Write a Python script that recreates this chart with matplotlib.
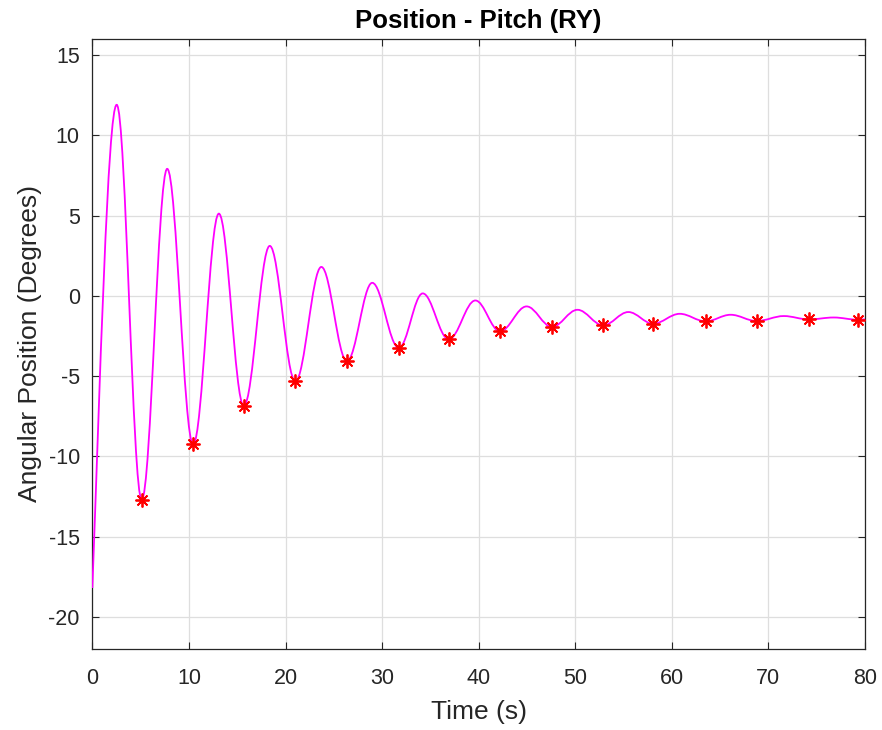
import numpy as np
import matplotlib
matplotlib.use("Agg")
import matplotlib.pyplot as plt
from matplotlib.path import Path
from matplotlib.patches import PathPatch

# ---- data ----
start_time = 0.0
start_value = -18.2
start_slope = 16.0  # deg/s at t=0

peak_times = [2.52, 7.75, 13.10, 18.37, 23.71, 28.98, 34.21, 39.66, 44.96,
              50.23, 55.50, 60.82, 66.09, 71.60, 76.77]
peak_values = [11.9, 7.91, 5.12, 3.11, 1.80, 0.81, 0.15, -0.29, -0.66,
               -0.87, -1.01, -1.12, -1.18, -1.26, -1.35]

trough_times = [5.11, 10.44, 15.68, 21.02, 26.36, 31.73, 36.90, 42.21, 47.59,
                52.89, 58.06, 63.50, 68.78, 74.18, 79.28]
trough_values = [-12.7, -9.26, -6.86, -5.33, -4.07, -3.24, -2.71, -2.21, -1.94,
                 -1.84, -1.74, -1.59, -1.57, -1.47, -1.49]

end_time = 80.0
end_value = -1.47

x_ticks = [0, 10, 20, 30, 40, 50, 60, 70, 80]
y_ticks = [-20, -15, -10, -5, 0, 5, 10, 15]

plt.rcParams['font.family'] = ['Liberation Sans', 'DejaVu Sans']
plt.rcParams['axes.unicode_minus'] = False

fig = plt.figure(figsize=(8.82, 7.30), dpi=100)
ax = fig.add_axes([0.1047, 0.111, 0.8760, 0.8356])

# extrema sequence (alternating peaks and troughs)
ext_t, ext_v = [], []
for i in range(len(peak_times)):
    ext_t.append(peak_times[i]); ext_v.append(peak_values[i])
    ext_t.append(trough_times[i]); ext_v.append(trough_values[i])

# smooth curve built as a bezier path through the read extrema
a = 0.3634
verts = [(start_time, start_value)]
codes = [Path.MOVETO]
d0 = ext_t[0] - start_time
k = 0.3 * d0
verts += [(start_time + k, start_value + start_slope * k),
          (ext_t[0] - a * d0, ext_v[0]),
          (ext_t[0], ext_v[0])]
codes += [Path.CURVE4] * 3
for i in range(1, len(ext_t)):
    t0, v0 = ext_t[i - 1], ext_v[i - 1]
    t1, v1 = ext_t[i], ext_v[i]
    d = t1 - t0
    verts += [(t0 + a * d, v0), (t1 - a * d, v1), (t1, v1)]
    codes += [Path.CURVE4] * 3
# final piece to the end of the record
t0, v0 = ext_t[-1], ext_v[-1]
d = end_time - t0
verts += [(t0 + a * d, v0), (end_time - a * d, end_value), (end_time, end_value)]
codes += [Path.CURVE4] * 3

patch = PathPatch(Path(verts, codes), facecolor='none', edgecolor=(1, 0, 1),
                  lw=1.3, zorder=3, clip_on=True)
ax.add_patch(patch)

ax.plot(trough_times, trough_values, linestyle='none', marker=(8, 2, 0),
        markersize=10, markeredgewidth=1.3, color=(1, 0, 0), zorder=4)

ax.set_xlim(0, 80)
ax.set_ylim(-22, 16)
ax.set_xticks(x_ticks)
ax.set_yticks(y_ticks)

dark = (0.15, 0.15, 0.15)
ax.grid(True, color=(0.87, 0.87, 0.87), linewidth=0.9)
ax.set_axisbelow(True)
ax.tick_params(direction='in', length=5, width=0.8, colors=dark,
               labelsize=15.5, top=True, right=True)
ax.tick_params(axis='x', pad=13.5)
ax.tick_params(axis='y', pad=9)
for sp in ax.spines.values():
    sp.set_color(dark)
    sp.set_linewidth(0.9)

ax.set_xlabel('Time (s)', fontsize=19, color=dark, labelpad=8)
ax.set_ylabel('Angular Position (Degrees)', fontsize=19, color=dark, labelpad=5)
ax.set_title('Position - Pitch (RY)', fontsize=18.5, fontweight='bold',
             color='black', pad=8)

fig.savefig('out.png', dpi=100)
